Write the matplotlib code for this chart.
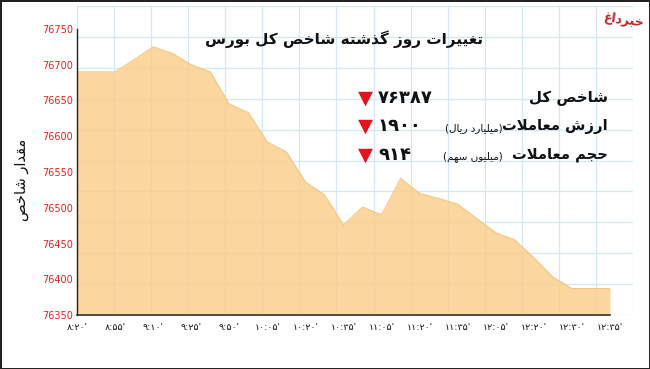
import numpy as np
import matplotlib
matplotlib.use("Agg")
import matplotlib.pyplot as plt

plt.rcParams['font.family'] = ['DejaVu Sans']

# data (points every half label step)
x_pos = np.arange(0, 14.5, 0.5)
index_values = [76690, 76690, 76690, 76707, 76725, 76716, 76700, 76690, 76645, 76633,
                76592, 76578, 76536, 76518, 76476, 76501, 76490, 76541, 76520, 76513,
                76505, 76485, 76465, 76455, 76430, 76403, 76387, 76387, 76387]
time_labels = ["۸:۲۰'", "۸:۵۵'", "۹:۱۰'", "۹:۲۵'", "۹:۵۰'", "۱۰:۰۵'", "۱۰:۲۰'", "۱۰:۳۵'",
               "۱۱:۰۵'", "۱۱:۲۰'", "۱۱:۳۵'", "۱۲:۰۵'", "۱۲:۲۰'", "۱۲:۳۰'", "۱۲:۳۵'"]
y_ticks = [76350, 76400, 76450, 76500, 76550, 76600, 76650, 76700, 76750]

title = "تغییرات روز گذشته شاخص کل بورس"
y_label = "مقدار شاخص"
stat_names = ["شاخص کل", "ارزش معاملات", "حجم معاملات"]
stat_units = ["", "(میلیارد ریال)", "(میلیون سهم)"]
stat_values = ["۷۶۳۸۷", "۱۹۰۰", "۹۱۴"]
logo = "خبرداغ"

# --- minimal Persian shaping (matplotlib lays text out left to right) ---
FORMS = {  # isolated, final, initial, medial
    'ا': ('\uFE8D', '\uFE8E', None, None),
    'ب': ('\uFE8F', '\uFE90', '\uFE91', '\uFE92'),
    'ت': ('\uFE95', '\uFE96', '\uFE97', '\uFE98'),
    'ة': ('\uFE93', '\uFE94', None, None),
    'ج': ('\uFE9D', '\uFE9E', '\uFE9F', '\uFEA0'),
    'ح': ('\uFEA1', '\uFEA2', '\uFEA3', '\uFEA4'),
    'خ': ('\uFEA5', '\uFEA6', '\uFEA7', '\uFEA8'),
    'د': ('\uFEA9', '\uFEAA', None, None),
    'ذ': ('\uFEAB', '\uFEAC', None, None),
    'ر': ('\uFEAD', '\uFEAE', None, None),
    'ز': ('\uFEAF', '\uFEB0', None, None),
    'س': ('\uFEB1', '\uFEB2', '\uFEB3', '\uFEB4'),
    'ش': ('\uFEB5', '\uFEB6', '\uFEB7', '\uFEB8'),
    'ص': ('\uFEB9', '\uFEBA', '\uFEBB', '\uFEBC'),
    'ع': ('\uFEC9', '\uFECA', '\uFECB', '\uFECC'),
    'غ': ('\uFECD', '\uFECE', '\uFECF', '\uFED0'),
    'ق': ('\uFED5', '\uFED6', '\uFED7', '\uFED8'),
    'ك': ('\uFED9', '\uFEDA', '\uFEDB', '\uFEDC'),
    'ک': ('\uFB8E', '\uFB8F', '\uFB90', '\uFB91'),
    'گ': ('\uFB92', '\uFB93', '\uFB94', '\uFB95'),
    'ل': ('\uFEDD', '\uFEDE', '\uFEDF', '\uFEE0'),
    'م': ('\uFEE1', '\uFEE2', '\uFEE3', '\uFEE4'),
    'ن': ('\uFEE5', '\uFEE6', '\uFEE7', '\uFEE8'),
    'ه': ('\uFEE9', '\uFEEA', '\uFEEB', '\uFEEC'),
    'و': ('\uFEED', '\uFEEE', None, None),
    'ي': ('\uFEF1', '\uFEF2', '\uFEF3', '\uFEF4'),
    'ی': ('\uFBFC', '\uFBFD', '\uFBFE', '\uFBFF'),
}


def joins_next(c):
    return c in FORMS and FORMS[c][2] is not None


def fa(text):
    out = []
    i = 0
    n = len(text)
    while i < n:
        c = text[i]
        if c not in FORMS:
            out.append(c)
            i += 1
            continue
        prev = text[i - 1] if i > 0 else ''
        from_prev = joins_next(prev)
        if c == 'ل' and i + 1 < n and text[i + 1] == 'ا':
            out.append('\uFEFC' if from_prev else '\uFEFB')
            i += 2
            continue
        nxt = text[i + 1] if i + 1 < n else ''
        to_next = joins_next(c) and nxt in FORMS
        iso, fin, ini, med = FORMS[c]
        if from_prev and to_next:
            out.append(med)
        elif from_prev:
            out.append(fin)
        elif to_next:
            out.append(ini)
        else:
            out.append(iso)
        i += 1
    vis = ''.join(reversed(out))
    return vis.translate(str.maketrans('()', ')('))


W, H = 650, 369
fig = plt.figure(figsize=(W / 100, H / 100), dpi=100)
fig.patch.set_facecolor('white')
fig.patch.set_edgecolor('#222222')
fig.patch.set_linewidth(2)

L, R, T, B = 77, 610, 29, 315
ax_rect = [L / W, 1 - B / H, (R - L) / W, (B - T) / H]
xmin, xmax = 0, 14
ymin, ymax = 76350, 76750

# graph paper background, aligned with the chart ticks
g_left, g_right, g_top = 77, 633, 6
bg = fig.add_axes([g_left / W, 1 - B / H, (g_right - g_left) / W, (B - g_top) / H], zorder=0)
xs = (xmax - xmin) / (R - L)
ys = (ymax - ymin) / (B - T)
bg.set_xlim(xmin, xmin + (g_right - g_left) * xs)
bg.set_ylim(ymin, ymin + (B - g_top) * ys)
bg.set_xticks(np.arange(0, 15.5, 1))
bg.set_yticks(np.arange(76350, 76851, 50))
bg.grid(True, color='#d3e8f5', linewidth=0.9)
bg.tick_params(length=0, labelbottom=False, labelleft=False)
for s in bg.spines.values():
    s.set_visible(False)

ax = fig.add_axes(ax_rect, zorder=1)
ax.patch.set_alpha(0)
ax.fill_between(x_pos, index_values, ymin, color='#fbcf8e', alpha=0.85, linewidth=0)
ax.plot(x_pos, index_values, color='#f8c47c', linewidth=0.8)
ax.set_xlim(xmin, xmax)
ax.set_ylim(ymin, ymax)
ax.set_xticks(np.arange(len(time_labels)))
ax.set_xticklabels(time_labels, fontsize=6.8, color='#111111')
ax.set_yticks(y_ticks)
ax.set_yticklabels([str(v) for v in y_ticks], fontsize=7, color='#e2231a')
ax.tick_params(axis='both', length=0)
ax.tick_params(axis='x', pad=6)
ax.tick_params(axis='y', pad=3)
for side in ['top', 'right']:
    ax.spines[side].set_visible(False)
ax.spines['left'].set_color('#222222')
ax.spines['bottom'].set_color('#333333')
ax.spines['left'].set_linewidth(1.0)
ax.spines['bottom'].set_linewidth(1.2)


def fp(x, y):
    return x / W, 1 - y / H


fig.text(*fp(22, 180), fa(y_label), rotation=90, fontsize=10.5, ha='center', va='center', color='#111111')
fig.text(*fp(344, 39), fa(title), fontsize=11, fontweight='bold', ha='center', va='center', color='#111111')
fig.text(*fp(624, 20), fa(logo), fontsize=9, fontweight='bold',
         ha='center', va='center', color='#c1272d', rotation=-8)

rows_y = [98, 126, 155]
name_sizes = [10.8, 10.6, 10.6]
for k in range(3):
    y = rows_y[k]
    fig.text(*fp(608, y), fa(stat_names[k]), fontsize=name_sizes[k], fontweight='bold',
             ha='right', va='center', color='#111111')
    if stat_units[k]:
        fig.text(*fp(503, y + 2), fa(stat_units[k]), fontsize=7.5, ha='right', va='center', color='#111111')
    fig.text(*fp(365, y), '▼', fontsize=14, ha='center', va='center', color='#e3141b')
    fig.text(*fp(378, y), stat_values[k], fontsize=13, fontweight='bold', ha='left', va='center',
             color='#111111')

fig.savefig('out.png', dpi=100, facecolor=fig.get_facecolor(), edgecolor=fig.get_edgecolor())
